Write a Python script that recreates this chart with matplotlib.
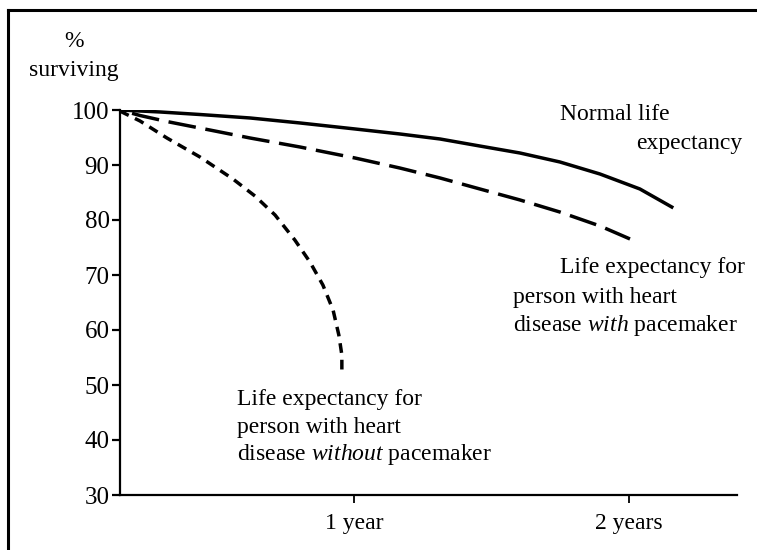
import numpy as np
import matplotlib
matplotlib.use("Agg")
import matplotlib.pyplot as plt
from matplotlib.lines import Line2D

plt.rcParams['font.family'] = ['Liberation Serif', 'DejaVu Serif']
plt.rcParams['mathtext.fontset'] = 'custom'
plt.rcParams['mathtext.rm'] = 'Liberation Serif'
plt.rcParams['mathtext.it'] = 'Liberation Serif:italic'
plt.rcParams['lines.scale_dashes'] = False

# time in years, % surviving
normal_t = [0.149, 0.295, 0.44, 0.622, 0.804, 1.004, 1.167, 1.313, 1.458, 1.604, 1.749, 1.895, 2.04, 2.156]
normal_s = [100, 99.64, 99.18, 98.55, 97.64, 96.55, 95.64, 94.73, 93.45, 92.18, 90.55, 88.36, 85.64, 82.36]

with_t = [0.149, 0.222, 0.32, 0.476, 0.622, 0.804, 1.004, 1.167, 1.313, 1.458, 1.604, 1.749, 1.895, 2.004]
with_s = [100, 99.0, 97.9, 96.36, 94.91, 93.27, 91.27, 89.45, 87.64, 85.64, 83.64, 81.45, 78.91, 76.55]

without_t = [0.149, 0.222, 0.32, 0.44, 0.56, 0.64, 0.713, 0.785, 0.84, 0.887, 0.924, 0.945, 0.956, 0.956]
without_s = [99.8, 98.0, 94.9, 91.45, 87.45, 84.36, 80.91, 76.36, 72.36, 68.18, 63.64, 59.09, 55.45, 52.36]

y_ticks = [30, 40, 50, 60, 70, 80, 90, 100]
x_ticks = [1, 2]
x_labels = ['1 year', '2 years']

fig = plt.figure(figsize=(7.57, 5.5), dpi=100)
ax = fig.add_axes([0.1585, 0.1, 0.815, 0.7])

ax.plot(normal_t, normal_s, color='black', lw=2.5, solid_joinstyle='round')
ax.plot(with_t, with_s, color='black', lw=2.5, ls=(18, (20, 7)))
ax.plot(without_t, without_s, color='black', lw=2.5, dashes=(7, 5))

ax.set_xlim(0.149, 2.393)
ax.set_ylim(30, 100)
for side in ['top', 'right']:
    ax.spines[side].set_visible(False)
for side in ['left', 'bottom']:
    ax.spines[side].set_linewidth(1.6)

ax.set_yticks(y_ticks)
ax.set_xticks(x_ticks)
ax.set_xticklabels(x_labels)
ax.tick_params(axis='y', direction='out', length=6, width=1.6, pad=1.5, labelsize=18)
ax.tick_params(axis='x', direction='out', length=6, width=1.3, pad=7, labelsize=17)

fs = 17
ax.text(-0.018, 112.4, '%', ha='center', va='center', fontsize=fs, clip_on=False)
ax.text(-0.018, 107.1, 'surviving', ha='center', va='center', fontsize=fs, clip_on=False)

ax.text(1.749, 99.1, 'Normal life', ha='left', va='center', fontsize=fs, clip_on=False)
ax.text(2.411, 94.0, 'expectancy', ha='right', va='center', fontsize=fs, clip_on=False)

ax.text(1.749, 71.3, 'Life expectancy for', ha='left', va='center', fontsize=fs)
ax.text(1.578, 66.0, 'person with heart', ha='left', va='center', fontsize=fs)
ax.text(1.578, 60.9, r'disease $\mathit{with}$ pacemaker', ha='left', va='center', fontsize=fs)

ax.text(0.575, 47.3, 'Life expectancy for', ha='left', va='center', fontsize=fs)
ax.text(0.575, 42.2, 'person with heart', ha='left', va='center', fontsize=fs)
ax.text(0.575, 37.3, r'disease $\mathit{without}$ pacemaker', ha='left', va='center', fontsize=fs)

# scanned page frame (top and left edges)
fig.add_artist(Line2D([8 / 757, 1], [1 - 10 / 550, 1 - 10 / 550], color='black', lw=2.2,
                      transform=fig.transFigure))
fig.add_artist(Line2D([8 / 757, 8 / 757], [0, 1 - 10 / 550], color='black', lw=2.2,
                      transform=fig.transFigure))

fig.savefig('out.png', dpi=100)
